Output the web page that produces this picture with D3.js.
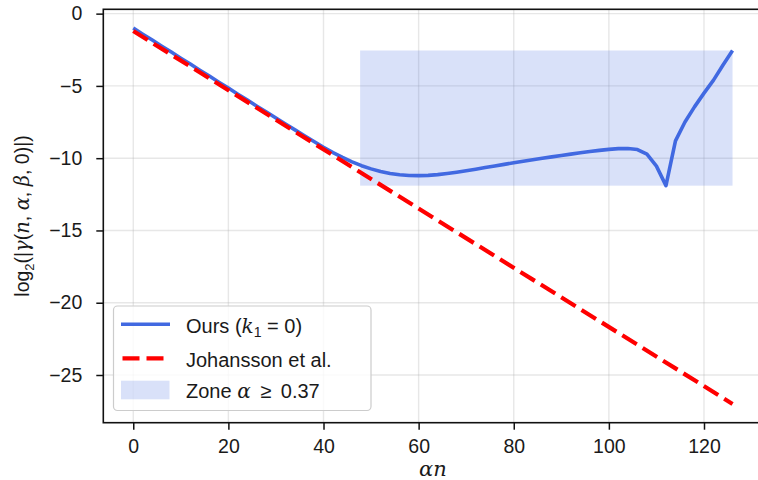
<!DOCTYPE html>
<html>
<head>
<meta charset="utf-8">
<script src="https://cdn.jsdelivr.net/npm/d3@7"></script>
<style>
  html, body { margin: 0; padding: 0; background: #fff; }
  svg { display: block; }
  text { font-family: "Liberation Sans", Arial, sans-serif; fill: #1a1a1a; }
  .mi { font-family: "DejaVu Serif", "Liberation Serif", serif; font-style: italic; }
</style>
</head>
<body>
<svg id="chart" width="758" height="480"></svg>
<script>
// alpha*n sample positions
const alphaN = [0, 2, 4, 6, 8, 10, 12, 14, 16, 18, 20, 22, 24, 26, 28, 30, 32, 34, 36, 38,
  40, 42, 44, 46, 48, 50, 52, 54, 56, 58, 60, 62, 64, 66, 68, 70, 72, 74, 76, 78,
  80, 82, 84, 86, 88, 90, 92, 94, 96, 98, 100, 102, 104, 106, 108, 110, 112, 114, 116, 118,
  120, 122, 124, 126];

// log2 |gamma(n, alpha, beta, 0)| for our method (k1 = 0)
const oursLog2 = [-1.00, -1.42, -1.83, -2.25, -2.66, -3.08, -3.49, -3.91, -4.32, -4.74,
  -5.15, -5.57, -5.98, -6.40, -6.81, -7.22, -7.63, -8.04, -8.45, -8.85,
  -9.24, -9.61, -9.95, -10.25, -10.52, -10.74, -10.92, -11.06, -11.15, -11.20,
  -11.21, -11.19, -11.14, -11.06, -10.97, -10.87, -10.76, -10.65, -10.54, -10.43,
  -10.32, -10.21, -10.11, -10.01, -9.91, -9.81, -9.72, -9.63, -9.54, -9.46,
  -9.39, -9.34, -9.33, -9.40, -9.72, -10.55, -11.90, -8.80, -7.50, -6.45,
  -5.50, -4.60, -3.55, -2.55];

// Johansson et al. bound (straight in log2 scale)
const johanssonX = [0, 42, 84, 126];
const johanssonLog2 = [-1.20, -9.80, -18.40, -27.00];

// Region where alpha >= 0.37
const zoneStart = 47.7;

const xTicks = [0, 20, 40, 60, 80, 100, 120];
const yTicks = [0, -5, -10, -15, -20, -25];

const svg = d3.select("#chart");
const plot = { left: 103.3, right: 762.5, top: 9.3, bottom: 422.7 };

const x = d3.scaleLinear().domain([-6.3, 132.3]).range([plot.left, plot.right]);
const y = d3.scaleLinear().domain([-28.3, 0.3]).range([plot.bottom, plot.top]);

const ours = alphaN.map((v, i) => ({ x: v, y: oursLog2[i] }));
const joh = johanssonX.map((v, i) => ({ x: v, y: johanssonLog2[i] }));
const zonePts = ours.filter(d => d.x >= zoneStart);
const zoneLo = d3.min(zonePts, d => d.y);
const zoneHi = d3.max(zonePts, d => d.y);
const zoneEnd = d3.max(zonePts, d => d.x);

svg.append("defs").append("clipPath").attr("id", "clip")
  .append("rect").attr("x", plot.left).attr("y", plot.top)
  .attr("width", plot.right - plot.left).attr("height", plot.bottom - plot.top);

// grid
const grid = svg.append("g").attr("stroke", "#b0b0b0").attr("stroke-opacity", 0.3).attr("stroke-width", 1.4);
grid.selectAll(".gx").data(xTicks).join("line")
  .attr("x1", d => x(d)).attr("x2", d => x(d)).attr("y1", plot.top).attr("y2", plot.bottom);
grid.selectAll(".gy").data(yTicks).join("line")
  .attr("y1", d => y(d)).attr("y2", d => y(d)).attr("x1", plot.left).attr("x2", plot.right);

const body = svg.append("g").attr("clip-path", "url(#clip)");

// shaded zone
body.append("rect")
  .attr("x", x(zoneStart)).attr("y", y(zoneHi))
  .attr("width", x(zoneEnd) - x(zoneStart)).attr("height", y(zoneLo) - y(zoneHi))
  .attr("fill", "royalblue").attr("fill-opacity", 0.2);

const line = d3.line().x(d => x(d.x)).y(d => y(d.y));

body.append("path").datum(ours).attr("d", line)
  .attr("fill", "none").attr("stroke", "royalblue").attr("stroke-width", 3.6)
  .attr("stroke-linejoin", "round").attr("stroke-linecap", "butt");

body.append("path").datum(joh).attr("d", line)
  .attr("fill", "none").attr("stroke", "red").attr("stroke-width", 4.2)
  .attr("stroke-dasharray", "17,7");

// axes
const xAxis = d3.axisBottom(x).tickValues(xTicks).tickSize(7).tickPadding(6).tickFormat(d3.format("d"));
const yAxis = d3.axisLeft(y).tickValues(yTicks).tickSize(7).tickPadding(14)
  .tickFormat(d => d < 0 ? "\u2212" + Math.abs(d) : String(d));

const gx = svg.append("g").attr("transform", `translate(0,${plot.bottom})`).call(xAxis);
const gy = svg.append("g").attr("transform", `translate(${plot.left},0)`).call(yAxis);
[gx, gy].forEach(g => {
  g.select(".domain").remove();
  g.selectAll(".tick line").attr("stroke", "#111").attr("stroke-width", 1.5);
  g.selectAll(".tick text").attr("fill", "#1a1a1a").style("font-size", "19.5px")
    .style("font-family", "'Liberation Sans', Arial, sans-serif");
});
gx.selectAll(".tick text").attr("dy", "0.9em");

// frame
svg.append("rect").attr("x", plot.left).attr("y", plot.top)
  .attr("width", plot.right - plot.left).attr("height", plot.bottom - plot.top)
  .attr("fill", "none").attr("stroke", "#111").attr("stroke-width", 1.6);

// x label
const xl = svg.append("text").attr("x", x(63)).attr("y", 476).attr("text-anchor", "middle")
  .style("font-size", "21px");
xl.append("tspan").attr("class", "mi").text("\u03b1n");

// y label
const yl = svg.append("text")
  .attr("transform", `translate(29,${(plot.top + plot.bottom) / 2}) rotate(-90)`)
  .attr("text-anchor", "middle").style("font-size", "19.5px");
yl.append("tspan").text("log");
yl.append("tspan").attr("dy", 5).style("font-size", "13px").text("2");
yl.append("tspan").attr("dy", -5).text("(|");
yl.append("tspan").attr("class", "mi").text("\u03b3");
yl.append("tspan").text("(");
yl.append("tspan").attr("class", "mi").text("n");
yl.append("tspan").text(", ");
yl.append("tspan").attr("class", "mi").text("\u03b1");
yl.append("tspan").text(", ");
yl.append("tspan").attr("class", "mi").text("\u03b2");
yl.append("tspan").text(", 0)|)");

// legend
const lg = svg.append("g");
lg.append("rect").attr("x", 113.5).attr("y", 306).attr("width", 257.5).attr("height", 104.5)
  .attr("rx", 4).attr("fill", "#fff").attr("fill-opacity", 0.8)
  .attr("stroke", "#cccccc").attr("stroke-width", 1.2);

lg.append("line").attr("x1", 121).attr("x2", 170).attr("y1", 324.3).attr("y2", 324.3)
  .attr("stroke", "royalblue").attr("stroke-width", 3.6);
lg.append("line").attr("x1", 122.5).attr("x2", 170).attr("y1", 358.3).attr("y2", 358.3)
  .attr("stroke", "red").attr("stroke-width", 4.2).attr("stroke-dasharray", "17,7");
lg.append("rect").attr("x", 121).attr("y", 380.7).attr("width", 48.5).attr("height", 18.6)
  .attr("fill", "royalblue").attr("fill-opacity", 0.2);

const t1 = lg.append("text").attr("x", 186).attr("y", 333).style("font-size", "20px")
  .attr("xml:space", "preserve").style("white-space", "pre");
t1.append("tspan").text("Ours (");
t1.append("tspan").attr("class", "mi").text("k");
t1.append("tspan").attr("dy", 4).style("font-size", "14px").text("1");
t1.append("tspan").attr("dy", -4).text(" = 0)");

lg.append("text").attr("x", 186).attr("y", 366.5).style("font-size", "20px").text("Johansson et al.");

const t3 = lg.append("text").attr("x", 186).attr("y", 398).style("font-size", "20px")
  .attr("xml:space", "preserve").style("white-space", "pre");
t3.append("tspan").text("Zone ");
t3.append("tspan").attr("class", "mi").text("\u03b1");
t3.append("tspan").text(" \u2009\u2265 \u20090.37");
</script>
</body>
</html>
